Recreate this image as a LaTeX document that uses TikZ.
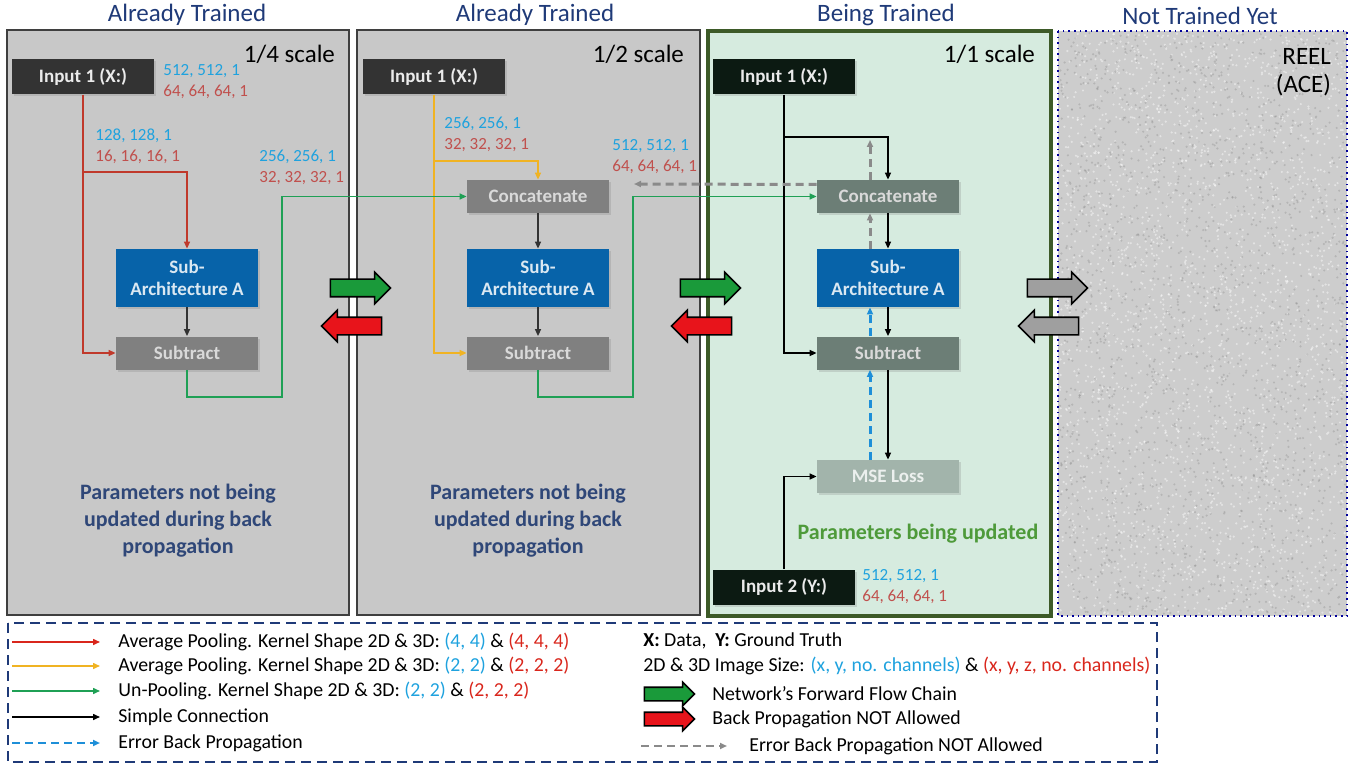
\documentclass[tikz,border=0pt]{standalone}
\usepackage{fontspec}
\setmainfont{Carlito}
\usepackage{xcolor}
\usetikzlibrary{arrows.meta,shapes.arrows,shadows}

\definecolor{panelgray}{HTML}{C8C8C8}
\definecolor{panelline}{HTML}{3F3F3F}
\definecolor{trainfill}{HTML}{D6EBDF}
\definecolor{trainline}{HTML}{3D5A28}
\definecolor{headblue}{HTML}{1F3A78}
\definecolor{parblue}{HTML}{2F4778}
\definecolor{pargreen}{HTML}{4E9A3A}
\definecolor{indark}{HTML}{333333}
\definecolor{indarkg}{HTML}{0C1A12}
\definecolor{subblue}{HTML}{0763A9}
\definecolor{opgray}{HTML}{808080}
\definecolor{opgreen}{HTML}{6C7E76}
\definecolor{msefill}{HTML}{A2B4AB}
\definecolor{numblue}{HTML}{1FA2DE}
\definecolor{numred}{HTML}{C0504D}
\definecolor{redln}{HTML}{C0392B}
\definecolor{yelln}{HTML}{F0B323}
\definecolor{grnln}{HTML}{1FA055}
\definecolor{bluedash}{HTML}{1E8FD8}
\definecolor{graydash}{HTML}{8A8A8A}
\definecolor{fwdgreen}{HTML}{1A9A3A}
\definecolor{backred}{HTML}{E8141B}
\definecolor{legred}{HTML}{D9261C}
\definecolor{noisegray}{HTML}{CDCDCD}

\begin{document}
\begin{tikzpicture}[x=0.5pt,y=-0.5pt,
  >={Triangle[length=3.5pt,width=3pt]},
  box/.style={minimum width=71pt, inner sep=0pt, align=center,
    font=\bfseries\fontsize{9.5}{11}\selectfont,
    drop shadow={opacity=0.25,shadow xshift=1pt,shadow yshift=-1pt}},
  inbox/.style={box, fill=indark, text=white!92!black, minimum height=17.5pt},
  subbox/.style={box, fill=subblue, text=white!85!subblue, minimum height=29pt},
  opbox/.style={box, fill=opgray, text=white!85!black, minimum height=16.5pt},
  heading/.style={text=headblue, font=\fontsize{12.5}{14}\selectfont},
  scalelbl/.style={anchor=east, font=\fontsize{12.5}{14}\selectfont},
  dims/.style={anchor=west, align=left, inner sep=0pt, font=\fontsize{8.5}{10.5}\selectfont},
  partext/.style={align=center, font=\bfseries\fontsize{11}{13.5}\selectfont},
  conn/.style={line width=0.75pt, ->},
  gdash/.style={draw=graydash, line width=1.5pt, dash pattern=on 4pt off 2.5pt, ->},
  bdash/.style={draw=bluedash, line width=1.5pt, dash pattern=on 4pt off 2.5pt, ->},
  blockarr/.style={single arrow, draw=black, line width=0.8pt, inner xsep=0pt,
    inner ysep=4pt, single arrow head extend=3.5pt, single arrow head indent=0pt,
    minimum height=30pt},
  legtext/.style={anchor=west, inner sep=0pt, font=\fontsize{9.9}{12}\selectfont}
]
  \useasboundingbox (0,0) rectangle (1362,765);

  % Panels
  \draw[panelline, line width=0.8pt, fill=panelgray] (7,30) rectangle (349,615);
  \draw[panelline, line width=0.8pt, fill=panelgray] (357,30) rectangle (700,615);
  \draw[trainline, line width=1.6pt, fill=trainfill] (708,31) rectangle (1051,616);
  % Not trained yet: noisy panel
  \fill[noisegray] (1058,31) rectangle (1347,616);
  \pgfmathsetseed{7}
  \foreach \i in {1,...,2600}{
    \fill[white, opacity=0.45] ({1060+285*rnd},{33+581*rnd}) circle (0.6pt);
  }
  \foreach \i in {1,...,1800}{
    \fill[gray, opacity=0.3] ({1060+285*rnd},{33+581*rnd}) circle (0.6pt);
  }
  \draw[blue!60!black, line width=0.8pt, dotted] (1058,31) rectangle (1347,616);

  % Headings
  \node[heading] at (187,15) {Already Trained};
  \node[heading] at (535,15) {Already Trained};
  \node[heading] at (886,15) {Being Trained};
  \node[heading] at (1200,16) {Not Trained Yet};
  \node[scalelbl] at (342,54) {1/4 scale};
  \node[scalelbl] at (691,54) {1/2 scale};
  \node[scalelbl] at (1042,54) {1/1 scale};
  \node[anchor=east, align=right, font=\fontsize{12.5}{14}\selectfont] at (1338,72) {REEL\\(ACE)};

  % 1/4 scale branch
  \node[inbox] (p1in) at (83,77) {Input 1 (X:)};
  \node[subbox] (p1sub) at (187,278) {Sub-\\Architecture A};
  \node[opbox] (p1st) at (187,353) {Subtract};
  \node[dims] at (163,81.5) {\textcolor{numblue}{512, 512, 1}\\\textcolor{numred}{64, 64, 64, 1}};
  \node[dims] at (95,146) {\textcolor{numblue}{128, 128, 1}\\\textcolor{numred}{16, 16, 16, 1}};
  \node[dims] at (259,167.5) {\textcolor{numblue}{256, 256, 1}\\\textcolor{numred}{32, 32, 32, 1}};
  \draw[conn, redln] (p1in.south) |- (p1st.west);
  \draw[conn, redln] (p1in.south |- 0,172) -| (p1sub.north);
  \draw[conn, black!80] (p1sub) -- (p1st);
  \node[partext, text=parblue] at (178,521) {Parameters not being\\updated during back\\propagation};

  % 1/2 scale branch
  \node[inbox] (p2in) at (434,77) {Input 1 (X:)};
  \node[opbox] (p2cat) at (538,196.5) {Concatenate};
  \node[subbox] (p2sub) at (538,278) {Sub-\\Architecture A};
  \node[opbox] (p2st) at (538,353) {Subtract};
  \node[dims] at (444,134.5) {\textcolor{numblue}{256, 256, 1}\\\textcolor{numred}{32, 32, 32, 1}};
  \node[dims] at (612,156.5) {\textcolor{numblue}{512, 512, 1}\\\textcolor{numred}{64, 64, 64, 1}};
  \draw[conn, yelln] (p2in.south) |- (p2st.west);
  \draw[conn, yelln] (p2in.south |- 0,161) -| (p2cat.north);
  \draw[conn, black!80] (p2cat) -- (p2sub);
  \draw[conn, black!80] (p2sub) -- (p2st);
  \draw[conn, grnln] (p1st.south) -- ++(0,27) -| (282,196.5) -- (p2cat.west);
  \node[partext, text=parblue] at (528,521) {Parameters not being\\updated during back\\propagation};

  % 1/1 scale branch
  \node[inbox, fill=indarkg] (p3in) at (784,77) {Input 1 (X:)};
  \node[opbox, fill=opgreen] (p3cat) at (888,196.5) {Concatenate};
  \node[subbox] (p3sub) at (888,278) {Sub-\\Architecture A};
  \node[opbox, fill=opgreen] (p3st) at (888,353) {Subtract};
  \node[opbox, fill=msefill, text=white!80!msefill] (p3mse) at (888,476.5) {MSE Loss};
  \node[inbox, fill=indarkg] (p3in2) at (784,587) {Input 2 (Y:)};
  \node[dims] at (862,586.5) {\textcolor{numblue}{512, 512, 1}\\\textcolor{numred}{64, 64, 64, 1}};
  \draw[conn, grnln] (p2st.south) -- ++(0,27) -| (633,196.5) -- (p3cat.west);
  \draw[conn] (p3in.south) |- (p3st.west);
  \draw[conn] (p3in.south |- 0,137) -| (p3cat.north);
  \draw[conn] (p3cat) -- (p3sub);
  \draw[conn] (p3sub) -- (p3st);
  \draw[conn] (p3st) -- (p3mse);
  \draw[conn] (p3in2.north) |- (p3mse.west);
  % error flow
  \coordinate (p2stop) at (634,184);
  \coordinate (p3top) at (870,140);
  \draw[gdash] ([yshift=6pt]p3cat.west) -- (p2stop);
  \draw[gdash] ([xshift=-9pt]p3cat.north) -- (p3top);
  \draw[gdash] ([xshift=-9pt]p3sub.north) -- ([xshift=-9pt]p3cat.south);
  \draw[bdash] ([xshift=-9pt]p3st.north) -- ([xshift=-9pt]p3sub.south);
  \draw[bdash] ([xshift=-9pt]p3mse.north) -- ([xshift=-9pt]p3st.south);
  \node[partext, text=pargreen] at (918,534) {Parameters being updated};

  % Flow arrows between panels
  \node[blockarr, fill=fwdgreen] (f1) at (356,288) {};
  \node[blockarr, fill=backred, shape border rotate=180] (b1) at (356,326) {};
  \node[blockarr, fill=fwdgreen] (f2) at (706,288) {};
  \node[blockarr, fill=backred, shape border rotate=180] (b2) at (706,326) {};
  \node[blockarr, fill=gray!75] (f3) at (1053,288) {};
  \node[blockarr, fill=gray!75, shape border rotate=180] (b3) at (1053,326) {};

  % Legend
  \draw[headblue, line width=1pt, dash pattern=on 5pt off 3pt] (8,623) rectangle (1157,762);
  \foreach \y/\c in {642/legred, 666/yelln, 691/grnln, 717/black}{
    \draw[conn, \c] (12,\y) -- (100,\y);
  }
  \draw[bdash, line width=1.2pt] (12,743) -- (100,743);
  \node[legtext] at (118,642) {Average Pooling. Kernel Shape 2D \& 3D: \textcolor{numblue}{(4, 4)} \& \textcolor{legred}{(4, 4, 4)}};
  \node[legtext] at (118,666) {Average Pooling. Kernel Shape 2D \& 3D: \textcolor{numblue}{(2, 2)} \& \textcolor{legred}{(2, 2, 2)}};
  \node[legtext] at (118,691) {Un-Pooling. Kernel Shape 2D \& 3D: \textcolor{numblue}{(2, 2)} \& \textcolor{legred}{(2, 2, 2)}};
  \node[legtext] at (118,717) {Simple Connection};
  \node[legtext] at (118,743) {Error Back Propagation};

  \node[legtext] at (643,641) {\textbf{X:} Data,\ \ \textbf{Y:} Ground Truth};
  \node[legtext] at (643,666) {2D \& 3D Image Size: \textcolor{numblue}{(x, y, no. channels)} \& \textcolor{legred}{(x, y, z, no. channels)}};
  \node[blockarr, fill=fwdgreen, minimum height=25pt, inner ysep=3pt, single arrow head extend=2.5pt] (lf) at (666,694) {};
  \node[blockarr, fill=backred, minimum height=25pt, inner ysep=3pt, single arrow head extend=2.5pt] (lb) at (666,719) {};
  \node[legtext] at (712,694) {Network’s Forward Flow Chain};
  \node[legtext] at (712,719) {Back Propagation NOT Allowed};
  \draw[gdash, line width=1.2pt] (641,746) -- (727,746);
  \node[legtext] at (749,746) {Error Back Propagation NOT Allowed};
\end{tikzpicture}
\end{document}
